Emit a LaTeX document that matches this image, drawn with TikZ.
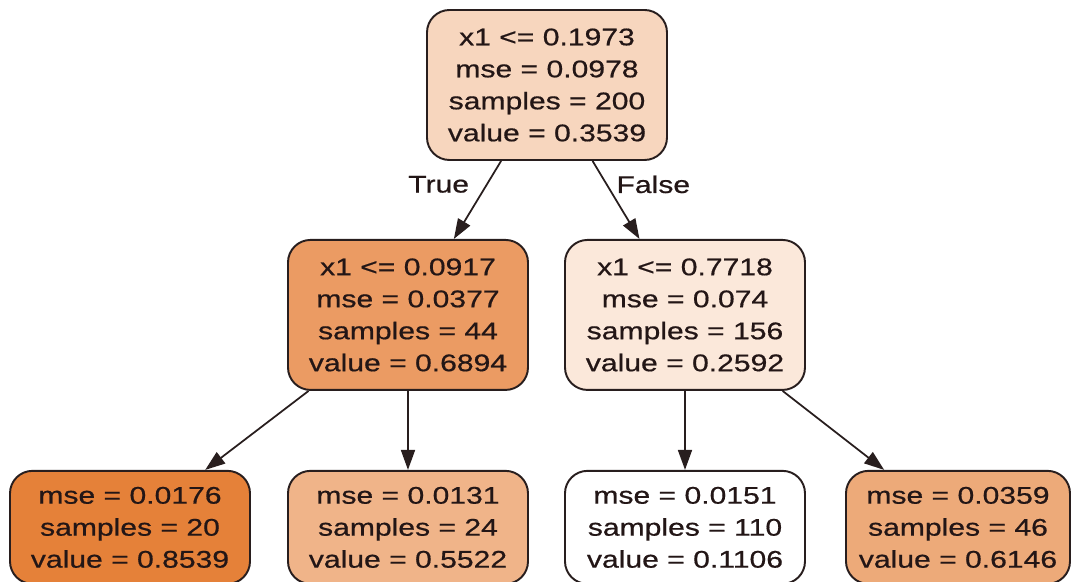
\documentclass[tikz,border=0pt]{standalone}
\usepackage{fontspec}
\newfontfamily\treefont{Liberation Sans}[FakeStretch=1.25, FakeBold=0.6]
\usepackage{xcolor}
\usepackage{tikz}
\usetikzlibrary{arrows.meta, positioning}
\definecolor{fillroot}{RGB}{247,214,190}
\definecolor{filllow}{RGB}{235,155,99}
\definecolor{fillhigh}{RGB}{251,232,218}
\definecolor{fillleafa}{RGB}{229,129,57}
\definecolor{fillleafb}{RGB}{240,180,137}
\definecolor{fillleafd}{RGB}{237,170,121}
\definecolor{linedark}{RGB}{40,30,30}
\definecolor{textdark}{RGB}{35,22,22}

\begin{document}
\begin{tikzpicture}[
    node distance=1.56cm and 1cm,
    box/.style={
        rectangle,
        rounded corners=0.45cm,
        draw=linedark,
        line width=1.1pt,
        align=center,
        minimum width=4.8cm,
        inner xsep=0.2cm,
        text=textdark,
        font=\treefont\fontsize{13.7pt}{18.2pt}\selectfont
    },
    splitbox/.style={box, minimum height=3cm},
    leafbox/.style={box, minimum height=2.26cm},
    arrow/.style={-{Triangle[length=0.4cm, width=0.28cm]}, line width=1pt, draw=linedark},
    edgelabel/.style={inner sep=0pt, text=textdark, font=\treefont\fontsize{13.7pt}{18.2pt}\selectfont}
]
\useasboundingbox (-10.94,1.7) rectangle (10.48,-9.94);

\node[splitbox, fill=fillroot] (root) {x1 <= 0.1973\\mse = 0.0978\\samples = 200\\value = 0.3539};

\node[splitbox, fill=filllow, below=of root, xshift=-2.78cm] (splitlow) {x1 <= 0.0917\\mse = 0.0377\\samples = 44\\value = 0.6894};
\node[splitbox, fill=fillhigh, below=of root, xshift=2.76cm] (splithigh) {x1 <= 0.7718\\mse = 0.074\\samples = 156\\value = 0.2592};

\node[leafbox, fill=fillleafa, below=1.58cm of splitlow, xshift=-5.56cm] (leafa) {mse = 0.0176\\samples = 20\\value = 0.8539};
\node[leafbox, fill=fillleafb, below=1.58cm of splitlow] (leafb) {mse = 0.0131\\samples = 24\\value = 0.5522};
\node[leafbox, fill=white, below=1.58cm of splithigh] (leafc) {mse = 0.0151\\samples = 110\\value = 0.1106};
\node[leafbox, fill=fillleafd, minimum width=4.48cm, below=1.58cm of splithigh, xshift=5.46cm] (leafd) {mse = 0.0359\\samples = 46\\value = 0.6146};

\draw[arrow] (root) -- node[edgelabel, pos=0.3, left=0.34cm] {True} (splitlow);
\draw[arrow] (root) -- node[edgelabel, pos=0.3, right=0.18cm] {False} (splithigh);
\draw[arrow] (splitlow) -- (leafa);
\draw[arrow] (splitlow) -- (leafb);
\draw[arrow] (splithigh) -- (leafc);
\draw[arrow] (splithigh) -- (leafd);

\end{tikzpicture}
\end{document}
